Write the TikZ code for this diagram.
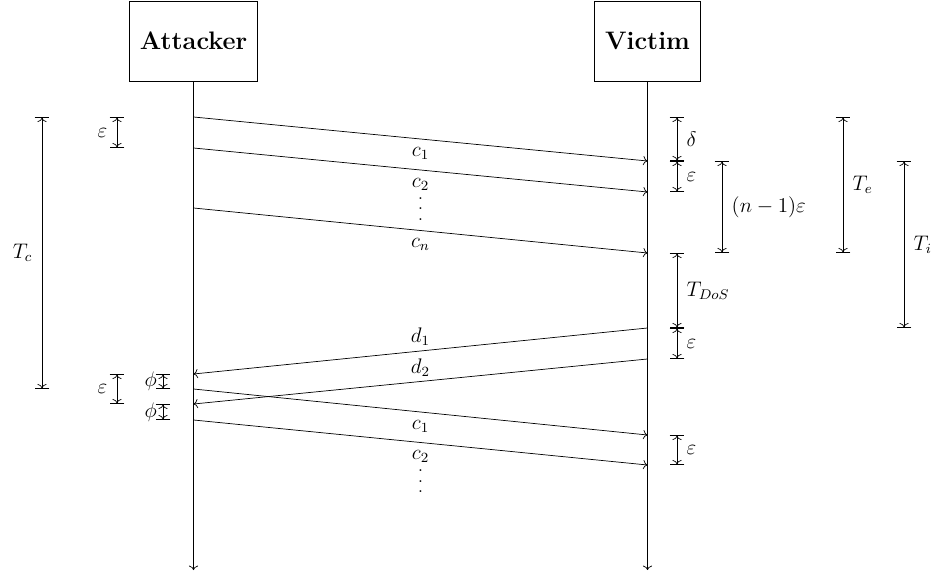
\documentclass[tikz,border=0pt]{standalone}
\usetikzlibrary{arrows.meta,positioning}

\newcommand{\tallvdots}{\vbox{\baselineskip6pt\lineskiplimit0pt\hbox{.}\hbox{.}\hbox{.}}}

\begin{document}
\begin{tikzpicture}[
  party/.style={draw,minimum height=1.6cm,inner xsep=6pt,font=\Large\bfseries},
  lifeline/.style={->},
  msg/.style={->},
  dimline/.style={arrows={Bar[width=8.5pt]To[]}-{To[]Bar[width=8.5pt]}},
  msglabel/.style={midway,font=\large},
  dimlabel/.style={font=\large},
  dots/.style={inner sep=0pt}
]
  \useasboundingbox (0,0) rectangle (18.68,-11.5);

  \node[party] (attacker) at (3.87,-0.82) {Attacker};
  \node[party] (victim) at (12.95,-0.82) {Victim};
  \coordinate (attEnd) at (3.87,-11.4);
  \coordinate (vicEnd) at (12.95,-11.4);
  \draw[lifeline] (attacker) -- (attEnd);
  \draw[lifeline] (victim) -- (vicEnd);

  % columns of the measurements
  \coordinate (colTc) at (0.84,0);
  \coordinate (colEps) at (2.34,0);
  \coordinate (colPhi) at (3.26,0);
  \coordinate (colR) at (13.54,0);
  \coordinate (colN) at (14.44,0);
  \coordinate (colTe) at (16.86,0);
  \coordinate (colTi) at (18.08,0);

  % first burst
  \coordinate (s1) at (3.87,-2.34);  \coordinate (r1) at (12.95,-3.22);
  \coordinate (s2) at (3.87,-2.96);  \coordinate (r2) at (12.95,-3.84);
  \coordinate (sn) at (3.87,-4.16);  \coordinate (rn) at (12.95,-5.06);
  % replies
  \coordinate (d1s) at (12.95,-6.56); \coordinate (d1r) at (3.87,-7.48);
  \coordinate (d2s) at (12.95,-7.18); \coordinate (d2r) at (3.87,-8.08);
  % second burst
  \coordinate (t1) at (3.87,-7.78);  \coordinate (u1) at (12.95,-8.70);
  \coordinate (t2) at (3.87,-8.40);  \coordinate (u2) at (12.95,-9.30);

  \draw[msg] (s1) -- node[msglabel,below=1pt] (lc1) {$c_1$} (r1);
  \draw[msg] (s2) -- node[msglabel,below=1pt] (lc2) {$c_2$} (r2);
  \draw[msg] (sn) -- node[msglabel,below=1pt] (lcn) {$c_n$} (rn);
  \node[dots] (moreA) at (8.41,-4.18) {\tallvdots};

  \draw[msg] (d1s) -- node[msglabel,above=-0.5pt] (ld1) {$d_1$} (d1r);
  \draw[msg] (d2s) -- node[msglabel,above=-0.5pt] (ld2) {$d_2$} (d2r);

  \draw[msg] (t1) -- node[msglabel,below=1pt] (lt1) {$c_1$} (u1);
  \draw[msg] (t2) -- node[msglabel,below=1pt] (lt2) {$c_2$} (u2);
  \node[dots] (moreB) at (8.41,-9.63) {\tallvdots};

  % attacker side
  \draw[dimline] (s1 -| colTc) -- node[dimlabel,left=2pt] (tc) {$T_c$} (t1 -| colTc);
  \draw[dimline] (s1 -| colEps) -- node[dimlabel,left=2pt] (eps1) {$\varepsilon$} (s2 -| colEps);
  \draw[dimline] (d1r -| colEps) -- node[dimlabel,left=2pt] (eps2) {$\varepsilon$} (d2r -| colEps);
  \draw[dimline] (d1r -| colPhi) -- node[dimlabel,left] (phi1) {$\phi$} (t1 -| colPhi);
  \draw[dimline] (d2r -| colPhi) -- node[dimlabel,left] (phi2) {$\phi$} (t2 -| colPhi);

  % victim side
  \draw[dimline] (s1 -| colR) -- node[dimlabel,right=2pt] (del) {$\delta$} (r1 -| colR);
  \draw[dimline] (r1 -| colR) -- node[dimlabel,right=2pt] (eps3) {$\varepsilon$} (r2 -| colR);
  \draw[dimline] (rn -| colR) -- node[dimlabel,right=2pt] (dos) {$T_{DoS}$} (d1s -| colR);
  \draw[dimline] (d1s -| colR) -- node[dimlabel,right=2pt] (eps4) {$\varepsilon$} (d2s -| colR);
  \draw[dimline] (u1 -| colR) -- node[dimlabel,right=2pt] (eps5) {$\varepsilon$} (u2 -| colR);
  \draw[dimline] (r1 -| colN) -- node[dimlabel,right=2pt] (neps) {$(n-1)\varepsilon$} (rn -| colN);
  \draw[dimline] (s1 -| colTe) -- node[dimlabel,right=2pt] (te) {$T_e$} (rn -| colTe);
  \draw[dimline] (r1 -| colTi) -- node[dimlabel,right=2pt] (ti) {$T_i$} (d1s -| colTi);
\end{tikzpicture}
\end{document}
